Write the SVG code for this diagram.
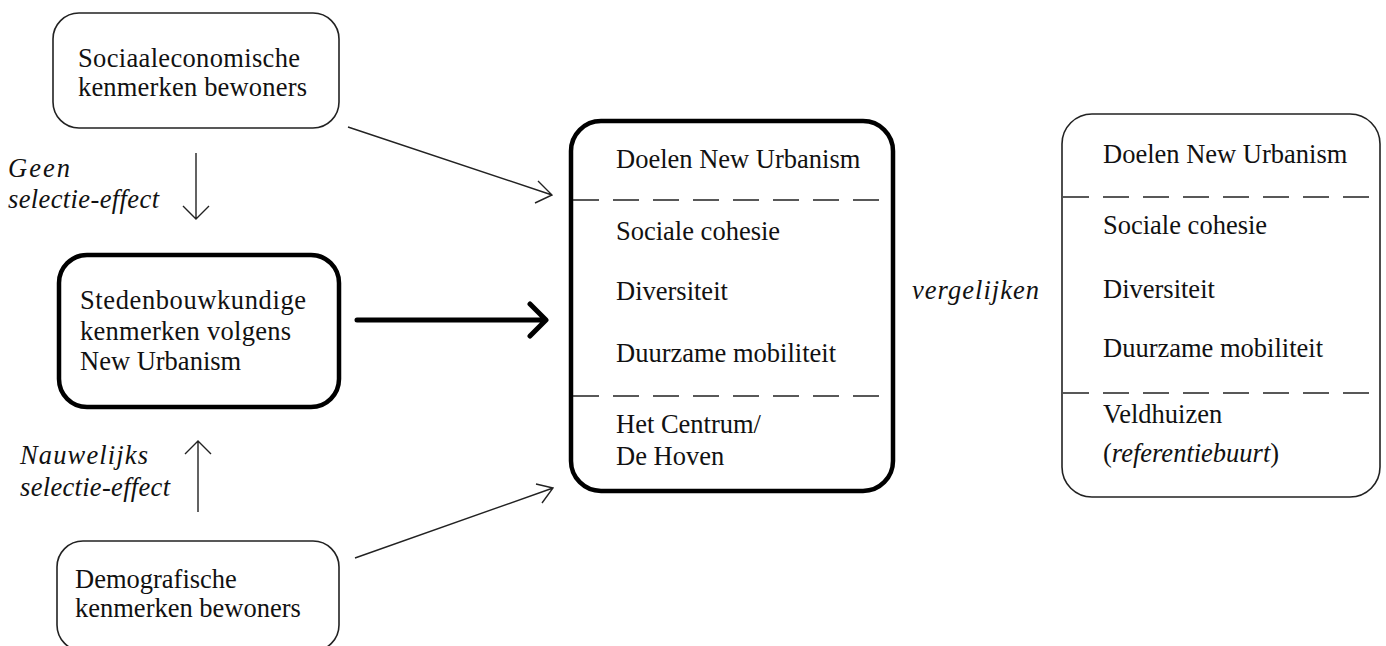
<svg xmlns="http://www.w3.org/2000/svg" width="1386" height="646" viewBox="0 0 1386 646">
<style>
text{font-family:"Liberation Serif","Times New Roman",serif;font-size:26.5px;fill:#111}
.it{font-style:italic}
.thin{fill:none;stroke:#222;stroke-width:1.6}
.thick{fill:none;stroke:#000;stroke-width:4.5}
.dash{fill:none;stroke:#222;stroke-width:1.6;stroke-dasharray:26 14}
.conn{fill:none;stroke:#222;stroke-width:1.4}
.connb{fill:none;stroke:#000;stroke-width:5;stroke-linecap:round;stroke-linejoin:round}
</style>
<g id="node-sociaal">
<rect class="thin" x="53" y="13" width="286" height="115" rx="26"/>
<text x="78" y="67" textLength="222">Sociaaleconomische</text>
<text x="78" y="96" textLength="229">kenmerken bewoners</text>
</g>
<g id="node-stedenbouw">
<rect class="thick" x="59" y="255" width="280" height="152" rx="28"/>
<text x="80" y="309" textLength="226">Stedenbouwkundige</text>
<text x="80" y="340" textLength="211">kenmerken volgens</text>
<text x="80" y="370">New Urbanism</text>
</g>
<g id="node-demografisch">
<rect class="thin" x="57" y="541" width="282" height="110" rx="26"/>
<text x="75" y="588">Demografische</text>
<text x="75" y="617">kenmerken bewoners</text>
</g>
<g id="node-doelen">
<rect class="thick" x="571" y="121" width="322" height="370" rx="30"/>
<line class="dash" x1="573" y1="200" x2="891" y2="200"/>
<line class="dash" x1="573" y1="396" x2="891" y2="396"/>
<text x="616" y="168">Doelen New Urbanism</text>
<text x="616" y="240">Sociale cohesie</text>
<text x="616" y="300">Diversiteit</text>
<text x="616" y="362">Duurzame mobiliteit</text>
<text x="616" y="433">Het Centrum/</text>
<text x="616" y="465">De Hoven</text>
</g>
<g id="node-veldhuizen">
<rect class="thin" x="1062" y="114" width="318" height="383" rx="30"/>
<line class="dash" x1="1063" y1="197" x2="1379" y2="197"/>
<line class="dash" x1="1063" y1="393" x2="1379" y2="393"/>
<text x="1103" y="163">Doelen New Urbanism</text>
<text x="1103" y="234">Sociale cohesie</text>
<text x="1103" y="298">Diversiteit</text>
<text x="1103" y="357">Duurzame mobiliteit</text>
<text x="1103" y="423">Veldhuizen</text>
<text x="1103" y="462">(<tspan class="it">referentiebuurt</tspan>)</text>
</g>
<g id="labels">
<text class="it" x="8" y="177" textLength="62">Geen</text>
<text class="it" x="8" y="208" textLength="151">selectie-effect</text>
<text class="it" x="20" y="464" textLength="128">Nauwelijks</text>
<text class="it" x="20" y="496" textLength="150">selectie-effect</text>
<text class="it" x="912" y="299" textLength="127">vergelijken</text>
</g>
<g id="connectors">
<path class="conn" d="M196 153 V219 M183 206 L196 219 L209 206"/>
<path class="conn" d="M198 512 V441 M185 454 L198 441 L211 454"/>
<path class="conn" d="M348 127 L552 195 M538 181 L552 195 L535 203"/>
<path class="conn" d="M355 558 L553 488 M536 484 L553 488 L542 503"/>
<path class="connb" d="M357 320 H545 M530 304 L546 320 L530 336"/>
</g>
</svg>
